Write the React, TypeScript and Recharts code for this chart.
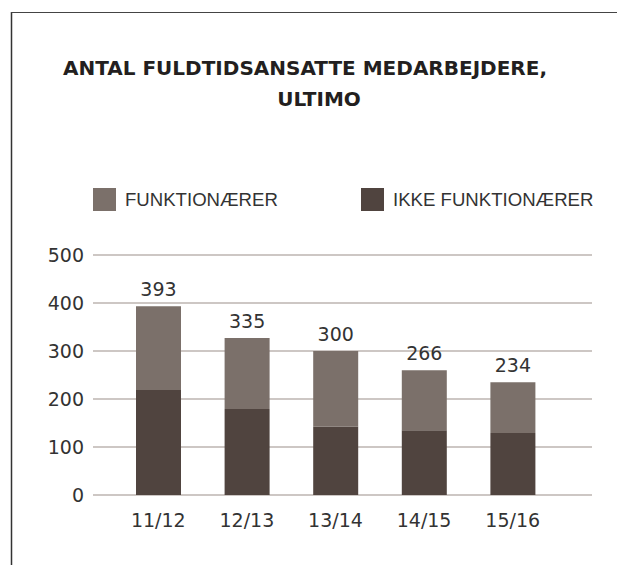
import React from 'react'
import { ComposedChart, Bar, XAxis, YAxis, CartesianGrid, LabelList } from 'recharts'

const seasons = ['11/12', '12/13', '13/14', '14/15', '15/16']
const ikkeFunktionaerer = [219, 179, 142, 135, 129]
const funktionaerer = [174, 148, 158, 125, 106]
const totalLabels = [393, 335, 300, 266, 234]
const yTicks = [0, 100, 200, 300, 400, 500]

const DARK = '#50443f'
const LIGHT = '#7b706a'
const INK = '#333333'

const data = seasons.map((s, i) => ({
  season: s,
  ikke: ikkeFunktionaerer[i],
  funk: funktionaerer[i],
  label: totalLabels[i],
}))

const legendItems = [
  { name: 'FUNKTIONÆRER', color: LIGHT, x: 93 },
  { name: 'IKKE FUNKTIONÆRER', color: DARK, x: 361 },
]

export default function App() {
  return (
    <div style={{ position: 'absolute', left: 0, top: 0, width: 617, height: 565, background: '#fff' }}>
      <ComposedChart
        width={617}
        height={565}
        data={data}
        margin={{ top: 255, right: 25, left: 33, bottom: 40 }}
      >
        <CartesianGrid vertical={false} stroke="#bdb5b1" strokeWidth={1.5} />
        <XAxis
          dataKey="season"
          axisLine={false}
          tickLine={false}
          tickSize={0}
          tickMargin={19}
          padding={{ left: 21, right: 35 }}
          tick={{ fontSize: 19, fill: INK, fontFamily: 'DejaVu Sans' }}
        />
        <YAxis
          width={60}
          domain={[0, 500]}
          ticks={yTicks}
          axisLine={false}
          tickLine={false}
          tickSize={0}
          tickMargin={9}
          tick={{ fontSize: 19, fill: INK, fontFamily: 'DejaVu Sans' }}
        />
        <Bar dataKey="ikke" stackId="a" fill={DARK} barSize={45} isAnimationActive={false} />
        <Bar dataKey="funk" stackId="a" fill={LIGHT} barSize={45} isAnimationActive={false}>
          <LabelList
            dataKey="label"
            position="top"
            offset={10}
            style={{ fontSize: 19, fill: INK, fontFamily: 'DejaVu Sans' }}
          />
        </Bar>
      </ComposedChart>
      <svg width={617} height={565} style={{ position: 'absolute', left: 0, top: 0, pointerEvents: 'none' }}>
        <line x1={11.5} y1={12} x2={11.5} y2={565} stroke="#333" strokeWidth={1.5} />
        <line x1={11} y1={12.5} x2={617} y2={12.5} stroke="#444" strokeWidth={1} />
        <text x={305} y={75} textAnchor="middle" fontFamily="DejaVu Sans" fontWeight="bold" fontSize={20} fill="#231f20">
          ANTAL FULDTIDSANSATTE MEDARBEJDERE,
        </text>
        <text x={319} y={106} textAnchor="middle" fontFamily="DejaVu Sans" fontWeight="bold" fontSize={20} fill="#231f20">
          ULTIMO
        </text>
        {legendItems.map(item => (
          <g key={item.name}>
            <rect x={item.x} y={188} width={23} height={23} fill={item.color} />
            <text x={item.x + 32} y={206} fontFamily="Liberation Sans" fontSize={18.6} fill={INK}>
              {item.name}
            </text>
          </g>
        ))}
      </svg>
    </div>
  )
}
